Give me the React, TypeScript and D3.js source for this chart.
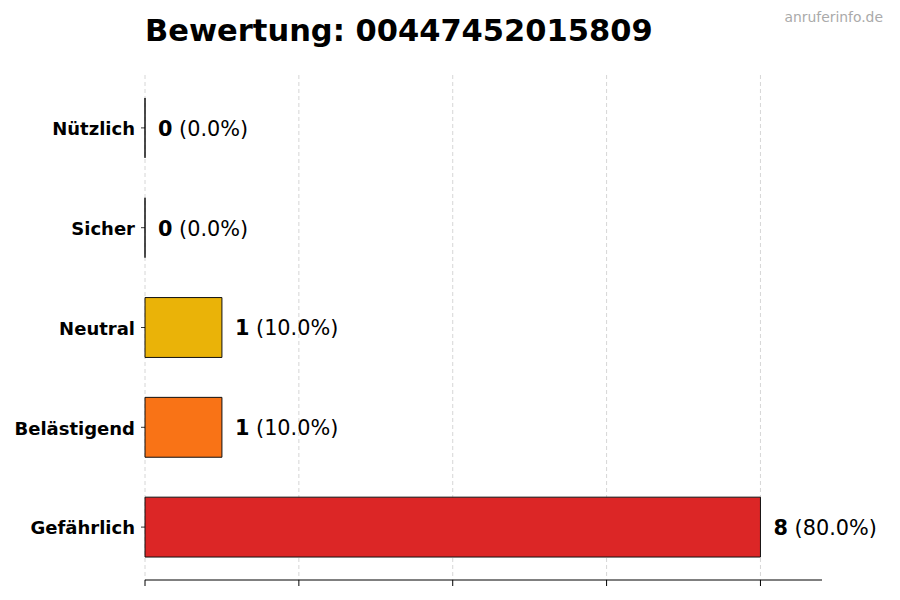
import React from 'react';
import * as d3 from 'd3';

// chart data
const categories = ['Gefährlich', 'Belästigend', 'Neutral', 'Sicher', 'Nützlich'];
const counts = [8, 1, 1, 0, 0];
const barColors = ['#dc2626', '#f97316', '#eab308', '#22c55e', '#3b82f6'];
const xTicks = [0, 2, 4, 6, 8];
const title = 'Bewertung: 00447452015809';
const watermark = 'anruferinfo.de';

const W = 900;
const H = 600;
const margin = { top: 75, right: 78, bottom: 20, left: 145 };
const font = '"DejaVu Sans", sans-serif';

const App = () => {
  const total = d3.sum(counts);
  const plotW = W - margin.left - margin.right;
  const plotH = H - margin.top - margin.bottom;

  const x = d3.scaleLinear().domain([0, 8.8]).range([0, plotW]);
  // matplotlib style: bars of height 0.6 around integer positions, 5% margins
  const y = d3.scaleLinear().domain([-0.53, 4.53]).range([plotH, 0]);
  const barH = y(0) - y(0.6);

  return (
    <svg width={W} height={H} style={{ position: 'absolute', left: 0, top: 0, background: '#fff' }}>
      <text x={145} y={41} fontFamily={font} fontWeight="bold" fontSize={30.5} fill="#000">
        {title}
      </text>
      <text x={883} y={22} textAnchor="end" fontFamily={font} fontSize={13.9} fill="#aaaaaa">
        {watermark}
      </text>
      <g transform={`translate(${margin.left},${margin.top})`}>
        {/* grid */}
        {xTicks.map((t) => (
          <line
            key={'g' + t}
            x1={x(t)}
            x2={x(t)}
            y1={0}
            y2={plotH}
            stroke="#cccccc"
            strokeWidth={0.8}
            strokeDasharray="4,3"
          />
        ))}
        {/* bars */}
        {categories.map((c, i) => {
          const yc = y(i);
          const x1 = x(counts[i]);
          const y0 = yc - barH / 2;
          const y1 = yc + barH / 2;
          return (
            <path
              key={c}
              d={`M${x(0)},${y0}H${x1}V${y1}H${x(0)}Z`}
              fill={barColors[i]}
              stroke="#111"
              strokeWidth={1}
            />
          );
        })}
        {/* value labels */}
        {categories.map((c, i) => (
          <text
            key={'v' + c}
            x={x(counts[i]) + 13}
            y={y(i)}
            dy="0.38em"
            fontFamily={font}
            fontSize={20.8}
            fill="#000"
          >
            <tspan fontWeight="bold">{counts[i]}</tspan>
            <tspan>{` (${((counts[i] / total) * 100).toFixed(1)}%)`}</tspan>
          </text>
        ))}
        {/* y axis ticks and labels */}
        {categories.map((c, i) => (
          <g key={'y' + c} transform={`translate(0,${y(i)})`}>
            <line x1={-4} x2={0} stroke="#000" strokeWidth={0.8} />
            <text
              x={-10}
              dy="0.4em"
              textAnchor="end"
              fontFamily={font}
              fontWeight="bold"
              fontSize={18}
              fill="#000"
            >
              {c}
            </text>
          </g>
        ))}
        {/* bottom axis */}
        <line x1={0} x2={plotW} y1={plotH} y2={plotH} stroke="#000" strokeWidth={1} />
        {xTicks.map((t) => (
          <line key={'t' + t} x1={x(t)} x2={x(t)} y1={plotH} y2={plotH + 6} stroke="#000" strokeWidth={1} />
        ))}
      </g>
    </svg>
  );
};

export default App;
